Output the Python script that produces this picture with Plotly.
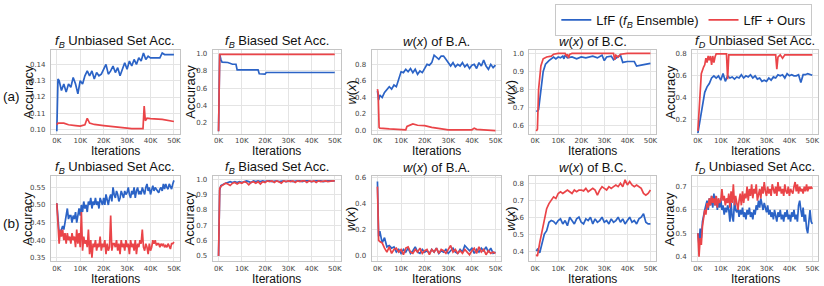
import plotly.graph_objects as go

# ---------------- data (x in thousands of iterations) ----------------
AX = [0, 0.5, 1, 2, 3, 4, 5, 6, 7, 8, 9, 10, 11, 12, 13, 14, 15, 16, 17, 18, 19, 20,
      21, 22, 23, 24, 25, 26, 27, 28, 29, 30, 31, 32, 33, 34, 35, 36, 37, 38, 39, 40,
      41, 42, 43, 44, 45, 46, 47, 48, 49, 50]
BX = [0, 0.5, 1, 1.5, 2, 2.5, 3, 3.5, 4, 4.5, 5, 5.5, 6, 6.5, 7, 7.5, 8, 8.5, 9, 9.5,
      10, 10.5, 11, 11.5, 12, 12.5, 13, 13.5, 14, 14.5, 15, 15.5, 16, 16.5, 17, 17.5,
      18, 18.5, 19, 19.5, 20, 20.5, 21, 21.5, 22, 22.5, 23, 23.5, 24, 24.5, 25, 25.5,
      26, 26.5, 27, 27.5, 28, 28.5, 29, 29.5, 30, 30.5, 31, 31.5, 32, 32.5, 33, 33.5,
      34, 34.5, 35, 35.5, 36, 36.5, 37, 37.5, 38, 38.5, 39, 39.5, 40, 40.5, 41, 41.5,
      42, 42.5, 43, 43.5, 44, 44.5, 45, 45.5, 46, 46.5, 47, 47.5, 48, 48.5, 49, 49.5, 50]
CX = [0.5, 1, 2, 3, 4, 5, 6, 7, 8, 9, 10, 11, 12, 13, 14, 15, 16, 17, 18, 19, 20,
      21, 22, 23, 24, 25, 26, 27, 28, 29, 30, 31, 32, 33, 34, 35, 36, 37, 38, 39, 40,
      41, 42, 43, 44, 45, 46, 47, 48, 49, 50]

# (a) f_B unbiased
A1_BLUE_X = AX
A1_BLUE = [0.099, 0.131, 0.130, 0.124, 0.128, 0.123, 0.128, 0.126, 0.132, 0.128, 0.122,
           0.130, 0.128, 0.133, 0.136, 0.133, 0.136, 0.131, 0.135, 0.133, 0.134, 0.137,
           0.140, 0.134, 0.136, 0.139, 0.135, 0.138, 0.133, 0.137, 0.141, 0.137, 0.142,
           0.139, 0.143, 0.140, 0.144, 0.142, 0.147, 0.143, 0.145, 0.144, 0.144, 0.144,
           0.144, 0.144, 0.147, 0.146, 0.146, 0.146, 0.146, 0.146]
A1_RED_X = [0, 0.5, 3, 5, 8, 10, 12, 13, 14, 16, 20, 24, 28, 32, 36.8, 37.3, 37.8, 38.5,
            40, 45, 50]
A1_RED = [0.103, 0.104, 0.104, 0.103, 0.1025, 0.1022, 0.103, 0.107, 0.104, 0.1032,
          0.1025, 0.102, 0.1012, 0.1006, 0.1006, 0.1145, 0.1055, 0.107, 0.1068, 0.1063,
          0.105]

# (a) f_B biased
A2_BLUE_X = [0, 0.5, 1, 1.5, 4, 5, 6, 7.5, 8, 10, 17, 17.5, 20, 20.5, 30, 50]
A2_BLUE = [0.1, 0.99, 0.93, 0.9, 0.895, 0.885, 0.875, 0.875, 0.81, 0.81, 0.81, 0.765,
           0.76, 0.78, 0.78, 0.78]
A2_RED_X = [0, 0.5, 50]
A2_RED = [0.1, 0.99, 0.99]

# (a) w(x) of B.A.
A3_BLUE_X = AX
A3_BLUE = [0.48, 0.37, 0.43, 0.40, 0.46, 0.50, 0.53, 0.50, 0.55, 0.53, 0.62, 0.71, 0.70,
           0.74, 0.71, 0.75, 0.70, 0.74, 0.68, 0.72, 0.70, 0.76, 0.80, 0.79, 0.82, 0.91,
           0.88, 0.86, 0.90, 0.90, 0.86, 0.82, 0.78, 0.82, 0.77, 0.80, 0.78, 0.82, 0.77,
           0.80, 0.75, 0.79, 0.80, 0.75, 0.82, 0.78, 0.85, 0.78, 0.74, 0.80, 0.76, 0.79]
A3_RED_X = [0, 0.3, 0.7, 1, 5, 10, 12, 12.5, 13.5, 15, 17, 20, 23, 27, 30, 35, 40, 41,
            42, 45, 50]
A3_RED = [0.5, 0.45, 0.04, 0.03, 0.02, 0.01, 0.01, 0.05, 0.065, 0.08, 0.065, 0.06, 0.04,
          0.02, 0.01, 0.01, 0.01, 0.03, 0.015, 0.01, 0.0]

# (a) w(x) of B.C.
A4_BLUE_X = [0.5, 1, 1.5, 2.5, 3.5, 4.5, 6, 8, 9, 10, 11, 12, 12.5, 13, 14, 16, 18, 20,
             22, 25, 27, 29, 30, 31, 33, 34, 36, 37, 38, 40, 43, 44, 46, 48, 50]
A4_BLUE = [0.68, 0.68, 0.69, 0.80, 0.90, 0.94, 0.96, 0.98, 0.97, 0.98, 0.975, 0.985,
           0.97, 0.99, 0.975, 0.98, 0.97, 0.98, 0.975, 0.985, 0.975, 0.99, 0.96, 0.98,
           0.985, 0.965, 0.98, 0.99, 0.95, 0.955, 0.955, 0.93, 0.935, 0.94, 0.945]
A4_RED_X = [0.5, 1, 1.5, 2.5, 3.5, 5, 7, 8, 10, 13, 13.5, 14, 14.5, 15, 16, 34, 34.5,
            35, 36, 37, 40, 50]
A4_RED = [0.57, 0.58, 0.80, 0.93, 0.97, 0.98, 0.985, 0.995, 1.0, 1.0, 0.985, 0.995,
          0.975, 0.995, 1.0, 1.0, 0.965, 0.99, 0.98, 0.995, 1.0, 1.0]

# (a) f_D unbiased
A5_BLUE_X = AX
A5_BLUE = [0.08, 0.14, 0.20, 0.35, 0.45, 0.50, 0.53, 0.58, 0.60, 0.58, 0.60, 0.56, 0.62,
           0.55, 0.60, 0.58, 0.59, 0.57, 0.59, 0.58, 0.61, 0.58, 0.60, 0.59, 0.61, 0.58,
           0.60, 0.57, 0.58, 0.55, 0.56, 0.55, 0.58, 0.56, 0.59, 0.58, 0.61, 0.60, 0.61,
           0.58, 0.62, 0.60, 0.61, 0.60, 0.60, 0.61, 0.54, 0.61, 0.61, 0.62, 0.61, 0.605]
A5_RED_X = [0, 1, 1.5, 2.5, 3, 3.5, 4, 4.5, 5, 5.5, 6, 6.5, 7, 7.5, 8, 12.5, 13, 13.5,
            34, 34.5, 35, 36, 37, 38, 50]
A5_RED = [0.1, 0.5, 0.62, 0.68, 0.70, 0.76, 0.72, 0.78, 0.74, 0.78, 0.70, 0.78, 0.72,
          0.77, 0.80, 0.80, 0.57, 0.79, 0.79, 0.66, 0.77, 0.79, 0.76, 0.79, 0.79]

# (b) f_B unbiased
B1_BLUE_X = BX
B1_BLUE = [0.505, 0.46, 0.42, 0.425, 0.43, 0.44, 0.43, 0.45, 0.47, 0.49, 0.46, 0.47,
           0.47, 0.45, 0.47, 0.46, 0.48, 0.45, 0.47, 0.49, 0.47, 0.50, 0.48, 0.51, 0.49,
           0.50, 0.48, 0.51, 0.50, 0.52, 0.49, 0.51, 0.50, 0.52, 0.50, 0.51, 0.49, 0.52,
           0.51, 0.50, 0.52, 0.50, 0.53, 0.51, 0.50, 0.52, 0.53, 0.51, 0.55, 0.53, 0.52,
           0.54, 0.53, 0.51, 0.52, 0.54, 0.53, 0.52, 0.54, 0.53, 0.535, 0.55, 0.53, 0.52,
           0.54, 0.53, 0.55, 0.52, 0.54, 0.55, 0.53, 0.54, 0.53, 0.55, 0.54, 0.53, 0.55,
           0.56, 0.54, 0.55, 0.53, 0.545, 0.555, 0.54, 0.55, 0.545, 0.54, 0.535, 0.545,
           0.55, 0.54, 0.56, 0.545, 0.56, 0.55, 0.545, 0.56, 0.55, 0.545, 0.56, 0.57]
B1_RED_X = BX
B1_RED = [0.505, 0.44, 0.39, 0.43, 0.41, 0.43, 0.40, 0.42, 0.39, 0.42, 0.40, 0.41, 0.39,
          0.42, 0.40, 0.41, 0.38, 0.43, 0.39, 0.42, 0.38, 0.48, 0.37, 0.41, 0.39, 0.40,
          0.38, 0.43, 0.36, 0.40, 0.35, 0.39, 0.38, 0.40, 0.37, 0.39, 0.38, 0.41, 0.37,
          0.39, 0.38, 0.40, 0.36, 0.39, 0.37, 0.38, 0.47, 0.37, 0.39, 0.39, 0.38, 0.40,
          0.37, 0.39, 0.36, 0.40, 0.38, 0.39, 0.37, 0.40, 0.38, 0.39, 0.36, 0.40, 0.38,
          0.39, 0.37, 0.40, 0.36, 0.39, 0.38, 0.40, 0.39, 0.43, 0.38, 0.37, 0.39, 0.38,
          0.36, 0.39, 0.37, 0.38, 0.40, 0.39, 0.40, 0.385, 0.39, 0.39, 0.38, 0.39, 0.385,
          0.39, 0.38, 0.385, 0.38, 0.39, 0.38, 0.375, 0.39, 0.39, 0.395]

# (b) f_B biased
B2_BLUE_X = AX
B2_BLUE = [0.5, 0.93, 0.96, 0.97, 0.975, 0.98, 0.985, 0.98, 0.985, 0.98, 0.985, 0.98,
           0.985, 0.99, 0.985, 0.98, 0.99, 0.985, 0.99, 0.985, 0.99, 0.985, 0.99, 0.99,
           0.985, 0.99, 0.99, 0.985, 0.99, 0.99, 0.985, 0.99, 0.99, 0.985, 0.99, 0.99,
           0.99, 0.985, 0.99, 0.99, 0.99, 0.985, 0.99, 0.99, 0.99, 0.99, 0.985, 0.99,
           0.99, 0.99, 0.99, 0.99]
B2_RED_X = AX
B2_RED = [0.5, 0.94, 0.955, 0.965, 0.975, 0.97, 0.96, 0.975, 0.98, 0.97, 0.98, 0.975,
          0.985, 0.98, 0.965, 0.98, 0.985, 0.975, 0.985, 0.97, 0.985, 0.98, 0.99, 0.985,
          0.99, 0.98, 0.99, 0.985, 0.975, 0.99, 0.985, 0.99, 0.985, 0.99, 0.98, 0.99,
          0.985, 0.99, 0.99, 0.98, 0.99, 0.985, 0.99, 0.98, 0.99, 0.985, 0.99, 0.99,
          0.985, 0.99, 0.99, 0.99]

# (b) w(x) of B.A.
B3_BLUE_X = AX
B3_BLUE = [0.57, 0.15, 0.19, 0.10, 0.14, 0.07, 0.08, 0.06, 0.07, 0.03, 0.05, 0.02, 0.05,
           0.03, 0.06, 0.02, 0.04, 0.07, 0.03, 0.02, 0.05, 0.03, 0.04, 0.02, 0.05, 0.03,
           0.06, 0.02, 0.04, 0.03, 0.05, 0.02, 0.04, 0.06, 0.03, 0.02, 0.05, 0.03, 0.08,
           0.06, 0.04, 0.06, 0.02, 0.05, 0.03, 0.06, 0.04, 0.07, 0.03, 0.06, 0.02, 0.03]
B3_RED_X = AX
B3_RED = [0.53, 0.12, 0.11, 0.10, 0.06, 0.03, 0.07, 0.02, 0.05, 0.06, 0.03, 0.05, 0.01,
          0.06, 0.07, 0.03, 0.02, 0.05, 0.03, 0.06, 0.02, 0.04, 0.05, 0.01, 0.05, 0.03,
          0.06, 0.02, 0.05, 0.04, 0.02, 0.05, 0.08, 0.03, 0.05, 0.02, 0.04, 0.02, 0.05,
          0.03, 0.01, 0.04, 0.06, 0.02, 0.07, 0.03, 0.05, 0.01, 0.04, 0.02, 0.03, 0.02]

# (b) w(x) of B.C.
B4_BLUE_X = CX
B4_BLUE = [0.40, 0.41, 0.39, 0.45, 0.50, 0.52, 0.57, 0.58, 0.575, 0.56, 0.58, 0.59,
           0.56, 0.58, 0.55, 0.60, 0.58, 0.56, 0.59, 0.60, 0.57, 0.56, 0.59, 0.58, 0.60,
           0.56, 0.59, 0.57, 0.58, 0.60, 0.57, 0.58, 0.56, 0.59, 0.57, 0.58, 0.60, 0.57,
           0.59, 0.56, 0.58, 0.60, 0.57, 0.58, 0.56, 0.59, 0.60, 0.62, 0.57, 0.56, 0.56]
B4_RED_X = CX
B4_RED = [0.38, 0.37, 0.45, 0.52, 0.60, 0.65, 0.68, 0.70, 0.72, 0.71, 0.74, 0.75, 0.74,
          0.75, 0.76, 0.75, 0.74, 0.76, 0.75, 0.76, 0.76, 0.755, 0.77, 0.75, 0.76, 0.77,
          0.76, 0.73, 0.76, 0.78, 0.77, 0.76, 0.78, 0.77, 0.78, 0.79, 0.78, 0.80, 0.78,
          0.82, 0.79, 0.81, 0.79, 0.78, 0.79, 0.78, 0.77, 0.74, 0.73, 0.74, 0.76]

# (b) f_D unbiased
B5_BLUE_X = BX
B5_BLUE = [0.50, 0.45, 0.52, 0.48, 0.55, 0.58, 0.60, 0.62, 0.64, 0.60, 0.65, 0.62, 0.66,
           0.61, 0.67, 0.62, 0.66, 0.60, 0.64, 0.61, 0.65, 0.60, 0.62, 0.58, 0.61, 0.59,
           0.62, 0.60, 0.55, 0.63, 0.57, 0.55, 0.64, 0.60, 0.59, 0.61, 0.57, 0.60, 0.58,
           0.61, 0.57, 0.59, 0.56, 0.60, 0.58, 0.61, 0.57, 0.59, 0.56, 0.60, 0.58, 0.62,
           0.60, 0.64, 0.61, 0.65, 0.62, 0.60, 0.63, 0.61, 0.59, 0.62, 0.58, 0.60, 0.57,
           0.59, 0.56, 0.60, 0.58, 0.55, 0.59, 0.57, 0.60, 0.56, 0.58, 0.55, 0.59, 0.57,
           0.60, 0.56, 0.58, 0.55, 0.59, 0.57, 0.60, 0.56, 0.58, 0.55, 0.62, 0.64, 0.60,
           0.57, 0.61, 0.55, 0.58, 0.52, 0.50, 0.56, 0.60, 0.55, 0.54]
B5_RED_X = BX
B5_RED = [0.50, 0.40, 0.48, 0.45, 0.53, 0.56, 0.60, 0.58, 0.63, 0.61, 0.65, 0.62, 0.66,
          0.63, 0.65, 0.62, 0.66, 0.61, 0.65, 0.63, 0.64, 0.69, 0.64, 0.66, 0.62, 0.65,
          0.63, 0.67, 0.61, 0.68, 0.63, 0.71, 0.62, 0.66, 0.63, 0.60, 0.64, 0.67, 0.62,
          0.68, 0.63, 0.67, 0.65, 0.70, 0.64, 0.69, 0.66, 0.71, 0.65, 0.69, 0.67, 0.71,
          0.64, 0.67, 0.69, 0.65, 0.70, 0.67, 0.72, 0.68, 0.66, 0.70, 0.67, 0.69, 0.66,
          0.71, 0.68, 0.67, 0.70, 0.66, 0.72, 0.68, 0.70, 0.67, 0.69, 0.66, 0.71, 0.68,
          0.67, 0.70, 0.66, 0.69, 0.68, 0.67, 0.70, 0.72, 0.68, 0.71, 0.67, 0.70, 0.68,
          0.69, 0.67, 0.70, 0.68, 0.71, 0.68, 0.70, 0.69, 0.70, 0.69]

SERIES_NAMES = ["LfF (<i>f<sub>B</sub></i> Ensemble)", "LfF + Ours"]
TITLES = ["<i>f<sub>B</sub></i> Unbiased Set Acc.", "<i>f<sub>B</sub></i> Biased Set Acc.",
          "<i>w</i>(<i>x</i>) of B.A.", "<i>w</i>(<i>x</i>) of B.C.",
          "<i>f<sub>D</sub></i> Unbiased Set Acc."]
YTITLES = ["Accuracy", "Accuracy", "<i>w</i>(<i>x</i>)", "<i>w</i>(<i>x</i>)", "Accuracy"]
ROW_LABELS = ["(a)", "(b)"]
X_TICKS = [0, 10, 20, 30, 40, 50]
X_TICK_TEXT = ["0K", "10K", "20K", "30K", "40K", "50K"]
Y_TICKS = [
    [0.10, 0.11, 0.12, 0.13, 0.14], [0.2, 0.4, 0.6, 0.8, 1.0], [0.0, 0.2, 0.4, 0.6, 0.8],
    [0.6, 0.7, 0.8, 0.9, 1.0], [0.2, 0.4, 0.6, 0.8],
    [0.35, 0.40, 0.45, 0.50, 0.55], [0.5, 0.6, 0.7, 0.8, 0.9, 1.0], [0.0, 0.2, 0.4, 0.6],
    [0.4, 0.5, 0.6, 0.7, 0.8], [0.4, 0.5, 0.6, 0.7],
]
Y_FMT = [".2f", ".1f", ".1f", ".1f", ".1f", ".2f", ".1f", ".1f", ".1f", ".1f"]
Y_RANGES = [
    [0.0976, 0.1485], [0.074, 1.034], [-0.036, 0.967], [0.556, 1.016], [0.075, 0.83],
    [0.34, 0.582], [0.466, 1.021], [-0.04, 0.61], [0.34, 0.842], [0.38, 0.745],
]
DATA = [
    (A1_BLUE_X, A1_BLUE, A1_RED_X, A1_RED), (A2_BLUE_X, A2_BLUE, A2_RED_X, A2_RED),
    (A3_BLUE_X, A3_BLUE, A3_RED_X, A3_RED), (A4_BLUE_X, A4_BLUE, A4_RED_X, A4_RED),
    (A5_BLUE_X, A5_BLUE, A5_RED_X, A5_RED),
    (B1_BLUE_X, B1_BLUE, B1_RED_X, B1_RED), (B2_BLUE_X, B2_BLUE, B2_RED_X, B2_RED),
    (B3_BLUE_X, B3_BLUE, B3_RED_X, B3_RED), (B4_BLUE_X, B4_BLUE, B4_RED_X, B4_RED),
    (B5_BLUE_X, B5_BLUE, B5_RED_X, B5_RED),
]

# ---------------- layout (pixels) ----------------
W, H = 824, 286
BLUE, RED = "#2b63c6", "#ea4448"
COL_PX = [(51, 180), (213, 341), (372, 502), (530, 657), (693, 819)]
ROW_PX = [(49, 133), (176, 262)]
XTITLE_Y = [151, 279.5]
YTITLE_X = [28, 190, 351, 511, 671]
TITLE_FONT = dict(family="Liberation Sans, Arial", size=13, color="#111")
XT_FONT = dict(family="Liberation Sans, Arial", size=12, color="#111")
TICK_FONT = dict(family="DejaVu Sans", size=7, color="#444")


def px(x):
    return x / W


def py(y):
    return 1 - y / H


fig = go.Figure()
layout = {}
annotations = []
for r in range(2):
    for c in range(5):
        k = r * 5 + c
        idx = k + 1
        xa = "x" if idx == 1 else f"x{idx}"
        ya = "y" if idx == 1 else f"y{idx}"
        bx, by, rx, ry = DATA[k]
        fig.add_trace(go.Scatter(x=bx, y=by, mode="lines", name=SERIES_NAMES[0],
                                 line=dict(color=BLUE, width=1.7), xaxis=xa, yaxis=ya,
                                 showlegend=(k == 0), legendrank=1))
        fig.add_trace(go.Scatter(x=rx, y=ry, mode="lines", name=SERIES_NAMES[1],
                                 line=dict(color=RED, width=1.7), xaxis=xa, yaxis=ya,
                                 showlegend=(k == 0), legendrank=2))
        x0, x1 = COL_PX[c]
        y0, y1 = ROW_PX[r]
        axcommon = dict(showline=True, mirror=True, linecolor="#c4c4c4", linewidth=1,
                        showgrid=True, gridcolor="#e4e4e4", gridwidth=1, zeroline=False,
                        ticks="", tickfont=TICK_FONT)
        layout["xaxis" if idx == 1 else f"xaxis{idx}"] = dict(
            domain=[px(x0), px(x1)], anchor=ya, range=[-2.5, 52.5],
            tickvals=X_TICKS, ticktext=X_TICK_TEXT, ticklabelstandoff=0, **axcommon)
        layout["yaxis" if idx == 1 else f"yaxis{idx}"] = dict(
            domain=[py(y1), py(y0)], anchor=xa, range=Y_RANGES[k],
            tickvals=Y_TICKS[k], tickformat=Y_FMT[k], ticklabelstandoff=3, **axcommon)
        cx = (x0 + x1) / 2
        annotations.append(dict(text=TITLES[c], x=px(cx), y=py(y0 - 9), xref="paper",
                                yref="paper", showarrow=False, font=TITLE_FONT,
                                xanchor="center", yanchor="middle"))
        annotations.append(dict(text="Iterations", x=px(cx), y=py(XTITLE_Y[r]), xref="paper",
                                yref="paper", showarrow=False, font=XT_FONT,
                                xanchor="center", yanchor="middle"))
        annotations.append(dict(text=YTITLES[c], x=px(YTITLE_X[c]), y=py((y0 + y1) / 2),
                                xref="paper", yref="paper", showarrow=False,
                                font=TITLE_FONT, textangle=-90,
                                xanchor="center", yanchor="middle"))
    annotations.append(dict(text=ROW_LABELS[r], x=px(12), y=py((ROW_PX[r][0] + ROW_PX[r][1]) / 2 + 5),
                            xref="paper", yref="paper", showarrow=False,
                            font=dict(family="Liberation Sans, Arial", size=13.5, color="#111"),
                            xanchor="center", yanchor="middle"))

fig.update_layout(
    width=W, height=H, margin=dict(l=0, r=0, t=0, b=0),
    paper_bgcolor="white", plot_bgcolor="white",
    annotations=annotations,
    legend=dict(orientation="h", x=px(556), y=py(2), xanchor="left", yanchor="top",
                bordercolor="#c8c8c8", borderwidth=1, bgcolor="white",
                font=dict(family="Liberation Sans, Arial", size=13, color="#111"),
                itemwidth=30, traceorder="normal"),
    **layout,
)
fig.write_html("out.html", config={"displayModeBar": False},
               post_script="document.body.style.margin='0';document.body.style.padding='0';")
